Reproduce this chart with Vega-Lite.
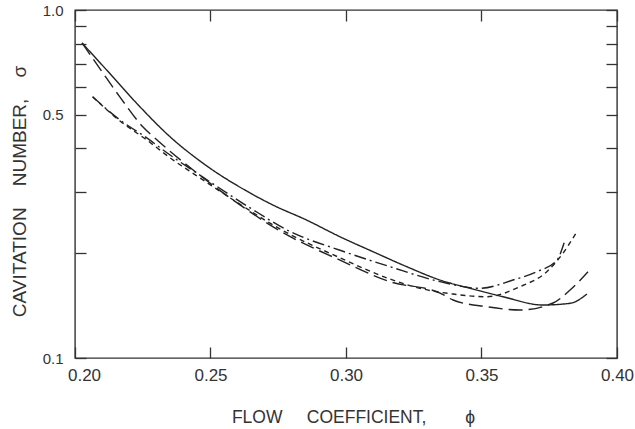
{
  "$schema": "https://vega.github.io/schema/vega-lite/v6.json",
  "width": 542,
  "height": 348,
  "autosize": {"type": "none"},
  "padding": {"left": 75, "top": 10, "right": 18, "bottom": 71},
  "background": "white",
  "config": {
    "view": {"stroke": "#333", "strokeWidth": 1.4},
    "axis": {"domain": false, "grid": false, "tickColor": "#333", "tickWidth": 1.3, "tickSize": 11, "offset": -11, "labelColor": "#333", "titleColor": "#333", "labelFont": "Liberation Sans", "titleFont": "Liberation Sans", "titleFontWeight": "normal"}
  },
  "data": {"values": [
    {"s": "A", "x": 0.2026, "y": 0.804},
    {"s": "A", "x": 0.2117, "y": 0.672},
    {"s": "A", "x": 0.2228, "y": 0.539},
    {"s": "A", "x": 0.2351, "y": 0.432},
    {"s": "A", "x": 0.2472, "y": 0.363},
    {"s": "A", "x": 0.2646, "y": 0.298},
    {"s": "A", "x": 0.2731, "y": 0.275},
    {"s": "A", "x": 0.2855, "y": 0.249},
    {"s": "A", "x": 0.2978, "y": 0.223},
    {"s": "A", "x": 0.3100, "y": 0.202},
    {"s": "A", "x": 0.3224, "y": 0.183},
    {"s": "A", "x": 0.3347, "y": 0.1675},
    {"s": "A", "x": 0.3458, "y": 0.1586},
    {"s": "A", "x": 0.3579, "y": 0.150},
    {"s": "A", "x": 0.3727, "y": 0.142},
    {"s": "A", "x": 0.3827, "y": 0.1436},
    {"s": "A", "x": 0.3889, "y": 0.1527},
    {"s": "B", "x": 0.2026, "y": 0.804},
    {"s": "B", "x": 0.2103, "y": 0.659},
    {"s": "B", "x": 0.2166, "y": 0.562},
    {"s": "B", "x": 0.2251, "y": 0.461},
    {"s": "B", "x": 0.2303, "y": 0.423},
    {"s": "B", "x": 0.2450, "y": 0.340},
    {"s": "B", "x": 0.2646, "y": 0.263},
    {"s": "B", "x": 0.2731, "y": 0.238},
    {"s": "B", "x": 0.2978, "y": 0.191},
    {"s": "B", "x": 0.3162, "y": 0.1657},
    {"s": "B", "x": 0.3347, "y": 0.1537},
    {"s": "B", "x": 0.3395, "y": 0.1468},
    {"s": "B", "x": 0.3519, "y": 0.1404},
    {"s": "B", "x": 0.3642, "y": 0.1374},
    {"s": "B", "x": 0.3764, "y": 0.1439},
    {"s": "B", "x": 0.3827, "y": 0.1568},
    {"s": "B", "x": 0.3893, "y": 0.177},
    {"s": "C", "x": 0.2065, "y": 0.563},
    {"s": "C", "x": 0.2166, "y": 0.483},
    {"s": "C", "x": 0.2265, "y": 0.429},
    {"s": "C", "x": 0.2351, "y": 0.383},
    {"s": "C", "x": 0.2472, "y": 0.331},
    {"s": "C", "x": 0.2646, "y": 0.270},
    {"s": "C", "x": 0.2793, "y": 0.231},
    {"s": "C", "x": 0.2978, "y": 0.204},
    {"s": "C", "x": 0.3162, "y": 0.183},
    {"s": "C", "x": 0.3347, "y": 0.1657},
    {"s": "C", "x": 0.3494, "y": 0.1586},
    {"s": "C", "x": 0.3616, "y": 0.1675},
    {"s": "C", "x": 0.3704, "y": 0.177},
    {"s": "C", "x": 0.3778, "y": 0.191},
    {"s": "C", "x": 0.3808, "y": 0.218},
    {"s": "D", "x": 0.2065, "y": 0.563},
    {"s": "D", "x": 0.2166, "y": 0.480},
    {"s": "D", "x": 0.2265, "y": 0.423},
    {"s": "D", "x": 0.2351, "y": 0.376},
    {"s": "D", "x": 0.2472, "y": 0.325},
    {"s": "D", "x": 0.2646, "y": 0.265},
    {"s": "D", "x": 0.2731, "y": 0.241},
    {"s": "D", "x": 0.2978, "y": 0.194},
    {"s": "D", "x": 0.3162, "y": 0.1687},
    {"s": "D", "x": 0.3273, "y": 0.1586},
    {"s": "D", "x": 0.3395, "y": 0.1527},
    {"s": "D", "x": 0.3519, "y": 0.150},
    {"s": "D", "x": 0.3642, "y": 0.1603},
    {"s": "D", "x": 0.3741, "y": 0.177},
    {"s": "D", "x": 0.3801, "y": 0.2002},
    {"s": "D", "x": 0.3852, "y": 0.2307}
  ]},
  "layer": [
    {
      "mark": {"type": "line", "color": "#222", "strokeWidth": 1.4, "interpolate": "monotone"},
      "encoding": {
        "x": {"field": "x", "type": "quantitative", "scale": {"domain": [0.2, 0.4], "nice": false, "zero": false},
          "axis": {"orient": "bottom", "title": "FLOW\u00a0\u00a0\u00a0\u00a0\u00a0COEFFICIENT,\u00a0\u00a0\u00a0\u00a0\u00a0\u00a0\u00a0\u00a0ϕ", "titleFontSize": 17.5, "titlePadding": 25, "titleX": 278,
            "values": [0.2, 0.25, 0.3, 0.35, 0.4], "format": ".2f", "labelFontSize": 17, "labelPadding": 9, "labelFlush": false,
            "labelOffset": {"condition": {"test": "datum.value < 0.21", "value": 9}, "value": 0}}},
        "y": {"field": "y", "type": "quantitative", "scale": {"type": "log", "domain": [0.1, 1], "nice": false},
          "axis": {"orient": "left", "title": "CAVITATION\u00a0\u00a0\u00a0\u00a0NUMBER,\u00a0\u00a0\u00a0\u00a0σ", "titleFontSize": 19, "titlePadding": 13, "titleY": 181,
            "values": [0.1, 0.2, 0.3, 0.4, 0.5, 0.6, 0.7, 0.8, 0.9, 1.0], "labelFontSize": 15, "labelPadding": 12,
            "labelExpr": "datum.value > 0.99 ? '1.0' : (abs(datum.value - 0.5) < 1e-6 ? '0.5' : (abs(datum.value - 0.1) < 1e-6 ? '0.1' : ''))"}},
        "strokeDash": {"field": "s", "type": "nominal", "legend": null,
          "scale": {"domain": ["A", "B", "C", "D"], "range": [[1, 0], [14, 6], [12, 4, 2, 4], [5, 4]]}}
      }
    },
    {
      "mark": {"type": "line", "opacity": 0},
      "encoding": {
        "x": {"field": "x", "type": "quantitative", "axis": {"orient": "top", "title": null, "labels": false, "values": [0.2, 0.25, 0.3, 0.35, 0.4]}},
        "y": {"field": "y", "type": "quantitative", "axis": {"orient": "right", "title": null, "labels": false, "values": [0.1, 0.2, 0.3, 0.4, 0.5, 0.6, 0.7, 0.8, 0.9, 1.0]}},
        "detail": {"field": "s"}
      }
    }
  ],
  "resolve": {"axis": {"x": "independent", "y": "independent"}}
}
